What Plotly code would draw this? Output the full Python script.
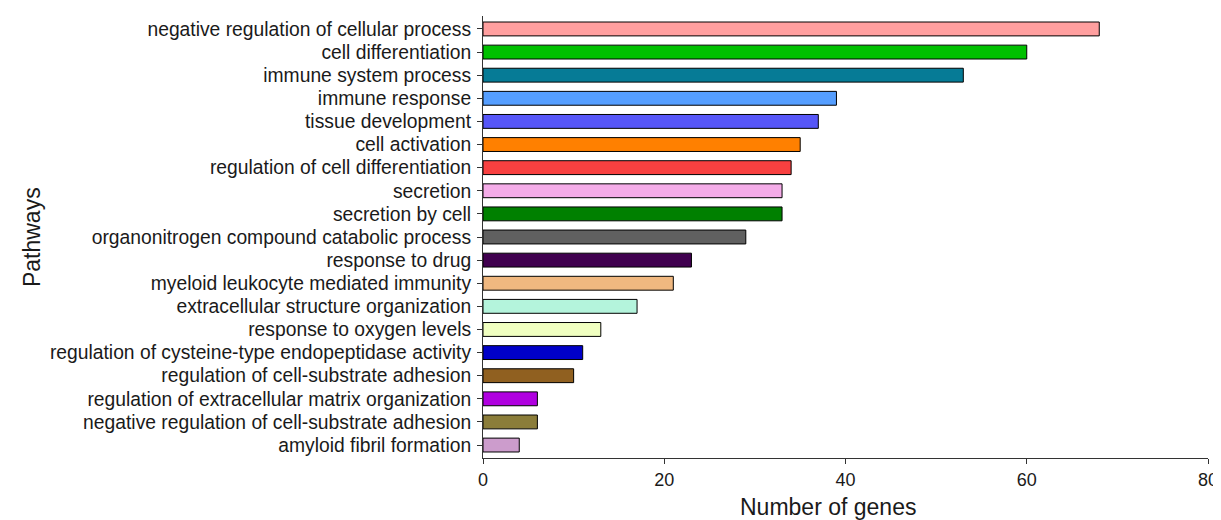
import plotly.graph_objects as go

pathways = [
    "negative regulation of cellular process",
    "cell differentiation",
    "immune system process",
    "immune response",
    "tissue development",
    "cell activation",
    "regulation of cell differentiation",
    "secretion",
    "secretion by cell",
    "organonitrogen compound catabolic process",
    "response to drug",
    "myeloid leukocyte mediated immunity",
    "extracellular structure organization",
    "response to oxygen levels",
    "regulation of cysteine-type endopeptidase activity",
    "regulation of cell-substrate adhesion",
    "regulation of extracellular matrix organization",
    "negative regulation of cell-substrate adhesion",
    "amyloid fibril formation",
]
gene_counts = [68, 60, 53, 39, 37, 35, 34, 33, 33, 29, 23, 21, 17, 13, 11, 10, 6, 6, 4]
bar_colors = [
    "#FF9F9F", "#00C000", "#067B96", "#559EFF", "#5757F8", "#FF8000", "#F84040",
    "#F4ACE8", "#008000", "#606060", "#40004F", "#F0B880", "#B4F4DC", "#F0FFC0",
    "#0000C8", "#906020", "#B000E0", "#8B7D3A", "#CC9CCC",
]
x_ticks = [0, 20, 40, 60, 80]
x_title = "Number of genes"
y_title = "Pathways"

fig = go.Figure(go.Bar(
    x=gene_counts,
    y=pathways,
    orientation="h",
    width=0.6,
    marker=dict(color=bar_colors, line=dict(color="black", width=1)),
))

font_family = "Liberation Sans, Arial, sans-serif"
fig.update_layout(
    width=1213, height=512,
    margin=dict(l=475, r=13, t=8, b=62, autoexpand=False),
    plot_bgcolor="white", paper_bgcolor="white",
    showlegend=False,
    font=dict(family=font_family, color="#1a1a1a", size=19),
    xaxis=dict(
        range=[0, 80], tickvals=x_ticks, showgrid=False, zeroline=False,
        automargin=False, ticklabeloverflow="allow",
        showline=True, linecolor="#333333", linewidth=1,
        ticks="outside", ticklen=5, tickcolor="#333333",
        tickfont=dict(size=18, color="#1a1a1a"),
    ),
    yaxis=dict(
        categoryorder="array", categoryarray=pathways,
        autorange=False, range=[len(pathways) - 0.44, -0.56],
        automargin=False,
        showgrid=False, zeroline=False,
        showline=True, linecolor="#333333", linewidth=1,
        ticks="outside", ticklen=5, tickcolor="#333333",
        ticklabelstandoff=2,
        tickfont=dict(size=19.3, color="#1a1a1a"),
    ),
    annotations=[
        dict(text=x_title, xref="paper", yref="paper", x=0.476, y=-0.111,
             xanchor="center", yanchor="middle", showarrow=False,
             font=dict(size=23, color="#1a1a1a")),
        dict(text=y_title, xref="paper", yref="paper", x=-0.622, y=0.5,
             xanchor="center", yanchor="middle", showarrow=False, textangle=-90,
             font=dict(size=23, color="#1a1a1a")),
    ],
)

fig.write_html("out.html")
